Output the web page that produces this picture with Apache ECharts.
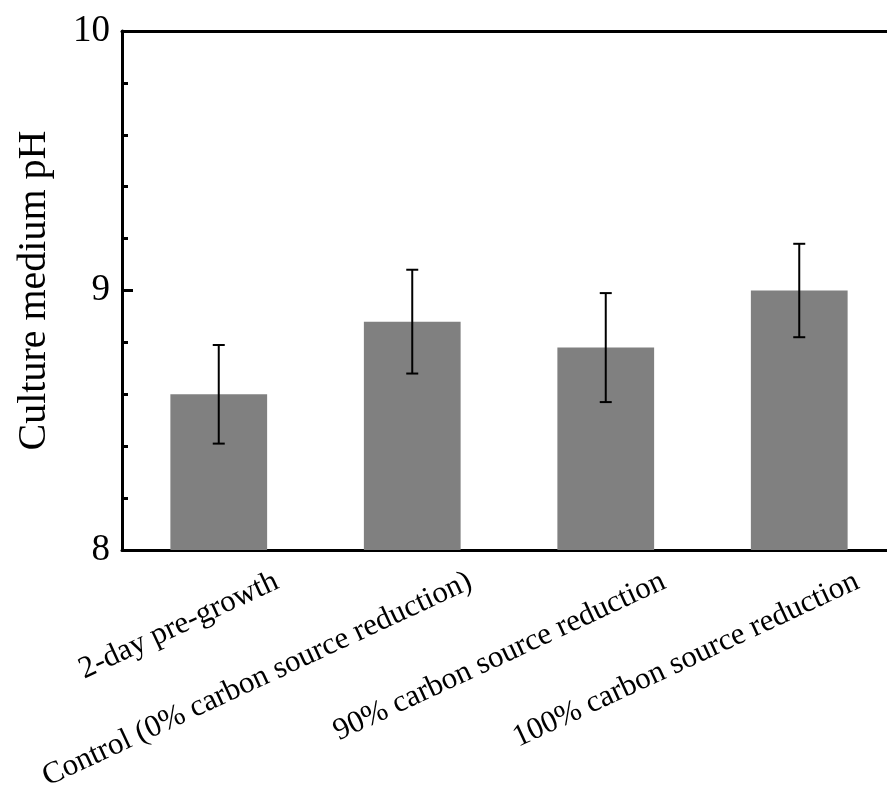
<!DOCTYPE html>
<html>
<head>
<meta charset="utf-8">
<script src="https://cdn.jsdelivr.net/npm/echarts@6/dist/echarts.min.js"></script>
<style>
html,body{margin:0;padding:0;background:#fff;}
#chart{width:887px;height:791px;}
</style>
</head>
<body>
<div id="chart"></div>
<script>
const categories = ['2-day pre-growth', 'Control (0% carbon source reduction)', '90% carbon source reduction', '100% carbon source reduction'];
const values = [8.60, 8.88, 8.78, 9.00];
const errors = [0.19, 0.20, 0.21, 0.18];
const yMin = 8, yMax = 10, yInterval = 1;
const yTitle = 'Culture medium pH';

const FONT = '"Liberation Serif", "Times New Roman", serif';
const chart = echarts.init(document.getElementById('chart'));
const errData = categories.map((c, i) => [i, values[i] + errors[i], values[i] - errors[i]]);

chart.setOption({
  animation: false,
  backgroundColor: '#fff',
  grid: [
    {left: 122, width: 774, top: 31, height: 519, outerBoundsMode: 'none', containLabel: false},
    {left: 180, width: 774, top: 31, height: 519, outerBoundsMode: 'none', containLabel: false}
  ],
  xAxis: [
    {type: 'category', gridIndex: 0, data: categories, position: 'bottom',
     axisLine: {lineStyle: {color: '#000', width: 3}}, axisTick: {show: false}, axisLabel: {show: false}},
    {type: 'category', gridIndex: 0, data: categories, position: 'top',
     axisLine: {lineStyle: {color: '#000', width: 3}}, axisTick: {show: false}, axisLabel: {show: false}},
    {type: 'category', gridIndex: 1, data: categories, position: 'bottom',
     axisLine: {show: false}, axisTick: {show: false},
     axisLabel: {rotate: 25, margin: 30, interval: 0, fontSize: 31, fontFamily: FONT, color: '#000'}}
  ],
  yAxis: [
    {type: 'value', gridIndex: 0, min: yMin, max: yMax, interval: yInterval,
     axisLine: {show: true, lineStyle: {color: '#000', width: 3}},
     axisTick: {show: true, inside: true, length: 11, lineStyle: {color: '#000', width: 3}},
     minorTick: {show: true, splitNumber: 5, length: 6, lineStyle: {color: '#000', width: 3}},
     splitLine: {show: false},
     axisLabel: {fontSize: 37, fontFamily: FONT, color: '#000', margin: 12},
     name: yTitle, nameLocation: 'middle', nameGap: 68,
     nameTextStyle: {fontSize: 40, fontFamily: FONT, color: '#000'}},
    {type: 'value', gridIndex: 1, min: yMin, max: yMax, show: false}
  ],
  series: [
    {type: 'bar', xAxisIndex: 0, yAxisIndex: 0, data: values, barWidth: '50%',
     itemStyle: {color: '#808080'}},
    {type: 'custom', xAxisIndex: 0, yAxisIndex: 0, data: errData, z: 10,
     renderItem: function (params, api) {
       const hi = api.coord([api.value(0), api.value(1)]);
       const lo = api.coord([api.value(0), api.value(2)]);
       const w = 6;
       const style = {stroke: '#000', lineWidth: 2};
       return {type: 'group', children: [
         {type: 'line', shape: {x1: hi[0], y1: hi[1], x2: lo[0], y2: lo[1]}, style: style},
         {type: 'line', shape: {x1: hi[0] - w, y1: hi[1], x2: hi[0] + w, y2: hi[1]}, style: style},
         {type: 'line', shape: {x1: lo[0] - w, y1: lo[1], x2: lo[0] + w, y2: lo[1]}, style: style}
       ]};
     }}
  ]
});
</script>
</body>
</html>
